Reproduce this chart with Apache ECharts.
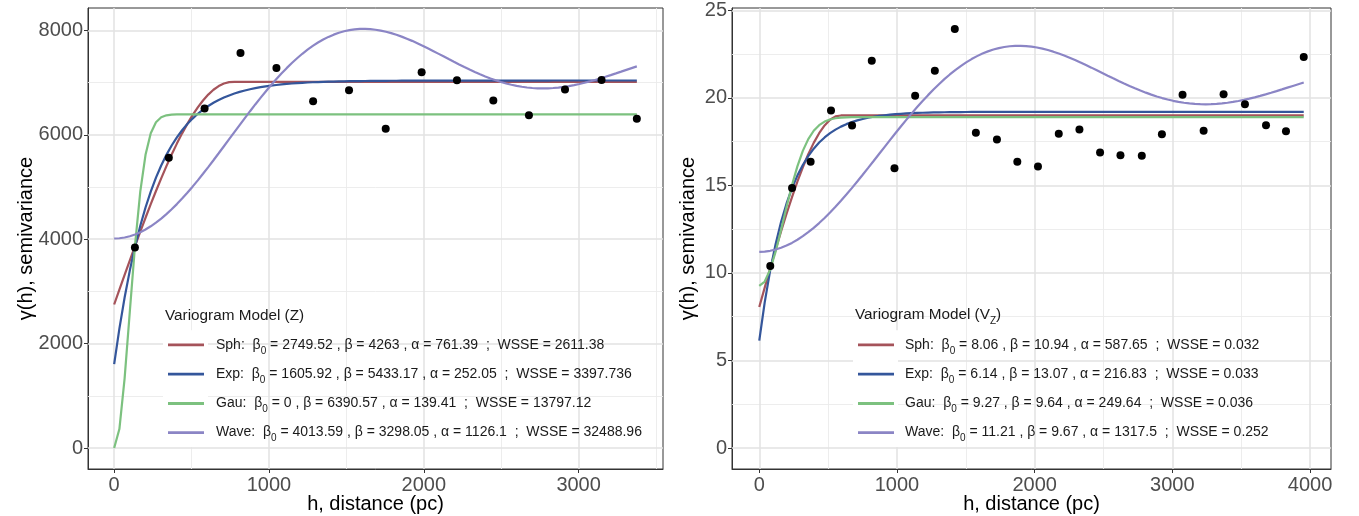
<!DOCTYPE html>
<html>
<head>
<meta charset="utf-8">
<script src="https://cdn.jsdelivr.net/npm/echarts@6/dist/echarts.min.js"></script>
<style>
  html, body { margin: 0; padding: 0; background: #fff; }
  #chart { width: 1359px; height: 516px; }
</style>
</head>
<body>
<div id="chart"></div>
<script>
// Empirical semivariogram of Z (left) and V_Z (right): lag distance (pc) and semivariance
const lagZ   = [134, 353, 584, 816, 1048, 1285, 1517, 1754, 1986, 2214, 2449, 2679, 2912, 3148, 3376];
const gammaZ = [3841, 5561, 6503, 7567, 7281, 6643, 6853, 6115, 7197, 7044, 6656, 6375, 6866, 7051, 6306];

const lagV   = [80, 238, 373, 521, 674, 817, 982, 1132, 1275, 1420, 1573, 1726, 1874, 2024,
                2175, 2325, 2475, 2623, 2778, 2924, 3074, 3227, 3372, 3527, 3680, 3825, 3954];
const gammaV = [10.40, 14.85, 16.35, 19.28, 18.43, 22.13, 15.99, 20.12, 21.56, 23.94, 18.01, 17.63, 16.35, 16.09,
                17.95, 18.20, 16.89, 16.73, 16.70, 17.93, 20.18, 18.12, 20.21, 19.64, 18.44, 18.10, 22.34];

// Fitted variogram models: nugget (beta0), partial sill (beta), range (alpha), WSSE
const modelNames = ['Sph', 'Exp', 'Gau', 'Wave'];
const modelColors = ['#A5535A', '#34569B', '#7CC17F', '#8B85C5'];

const nuggetZ = [2749.52, 1605.92, 0, 4013.59];
const sillZ   = [4263, 5433.17, 6390.57, 3298.05];
const rangeZ  = [761.39, 252.05, 139.41, 1126.1];
const wsseZ   = ['2611.38', '3397.736', '13797.12', '32488.96'];

const nuggetV = [8.06, 6.14, 9.27, 11.21];
const sillV   = [10.94, 13.07, 9.64, 9.67];
const rangeV  = [587.65, 216.83, 249.64, 1317.5];
const wsseV   = ['0.032', '0.033', '0.036', '0.252'];

// Axis ticks and minor grid positions
const xTicksZ = [0, 1000, 2000, 3000];
const xMinorZ = [500, 1500, 2500, 3500];
const yTicksZ = [0, 2000, 4000, 6000, 8000];
const yMinorZ = [1000, 3000, 5000, 7000];

const xTicksV = [0, 1000, 2000, 3000, 4000];
const xMinorV = [500, 1500, 2500, 3500];
const yTicksV = [0, 5, 10, 15, 20, 25];
const yMinorV = [2.5, 7.5, 12.5, 17.5, 22.5];

// Variogram model functions
function modelValue(kind, h, b0, b, a) {
  if (kind === 'Sph') {
    if (h >= a) return b0 + b;
    const r = h / a;
    return b0 + b * (1.5 * r - 0.5 * r * r * r);
  }
  if (kind === 'Exp') return b0 + b * (1 - Math.exp(-h / a));
  if (kind === 'Gau') return b0 + b * (1 - Math.exp(-(h / a) * (h / a)));
  // hole-effect (wave)
  if (h === 0) return b0;
  const t = Math.PI * h / a;
  return b0 + b * (1 - Math.sin(t) / t);
}

function modelCurve(kind, hMax, b0, b, a) {
  const pts = [];
  const n = 100;
  for (let i = 0; i <= n; i++) {
    const h = hMax * i / n;
    pts.push([h, modelValue(kind, h, b0, b, a)]);
  }
  return pts;
}

const FONT = '"Liberation Sans", Arial, Helvetica, sans-serif';

function gridLines(xMajor, xMinor, yMajor, yMinor) {
  const major = { color: '#E2E2E2', width: 1.5, type: 'solid' };
  const minor = { color: '#EBEBEB', width: 0.9, type: 'solid' };
  const d = [];
  xMinor.forEach(v => d.push({ xAxis: v, lineStyle: minor }));
  yMinor.forEach(v => d.push({ yAxis: v, lineStyle: minor }));
  xMajor.forEach(v => d.push({ xAxis: v, lineStyle: major }));
  yMajor.forEach(v => d.push({ yAxis: v, lineStyle: major }));
  return d;
}

const plainNumber = v => String(v);

function xAxisCfg(gridIndex, min, max, ticks) {
  return {
    type: 'value', gridIndex, min, max,
    name: 'h, distance (pc)', nameLocation: 'middle', nameGap: 25, nameMoveOverlap: false,
    nameTextStyle: { fontFamily: FONT, fontSize: 20, color: '#000' },
    axisLine: { show: true, onZero: false, lineStyle: { color: '#333', width: 1 } },
    axisTick: { show: true, length: 4, customValues: ticks, lineStyle: { color: '#333', width: 1 } },
    axisLabel: { customValues: ticks, formatter: plainNumber, fontFamily: FONT, fontSize: 20, color: '#4D4D4D',
                 margin: 6, showMinLabel: true, showMaxLabel: true, hideOverlap: false },
    splitLine: { show: false }, minorSplitLine: { show: false }
  };
}

function yAxisCfg(gridIndex, min, max, ticks, gap) {
  return {
    type: 'value', gridIndex, min, max,
    name: 'γ(h), semivariance', nameLocation: 'middle', nameGap: gap, nameRotate: 90, nameMoveOverlap: false,
    nameTextStyle: { fontFamily: FONT, fontSize: 20, color: '#000' },
    axisLine: { show: true, onZero: false, lineStyle: { color: '#333', width: 1 } },
    axisTick: { show: true, length: 4, customValues: ticks, lineStyle: { color: '#333', width: 1 } },
    axisLabel: { customValues: ticks, formatter: plainNumber, fontFamily: FONT, fontSize: 20, color: '#4D4D4D',
                 margin: 5, showMinLabel: true, showMaxLabel: true, hideOverlap: false },
    splitLine: { show: false }, minorSplitLine: { show: false }
  };
}

const series = [];
// grid lines behind everything
series.push({ type: 'line', xAxisIndex: 0, yAxisIndex: 0, data: [], z: 1, silent: true,
  markLine: { silent: true, symbol: ['none', 'none'], label: { show: false }, animation: false,
              data: gridLines(xTicksZ, xMinorZ, yTicksZ, yMinorZ) } });
series.push({ type: 'line', xAxisIndex: 1, yAxisIndex: 1, data: [], z: 1, silent: true,
  markLine: { silent: true, symbol: ['none', 'none'], label: { show: false }, animation: false,
              data: gridLines(xTicksV, xMinorV, yTicksV, yMinorV) } });

const hMaxZ = lagZ[lagZ.length - 1];
const hMaxV = lagV[lagV.length - 1];

modelNames.forEach((m, i) => {
  series.push({
    name: 'Z ' + m, type: 'line', xAxisIndex: 0, yAxisIndex: 0, z: 10 + i,
    showSymbol: false, symbol: 'none', smooth: false, clip: true,
    lineStyle: { color: modelColors[i], width: 2.2 },
    data: modelCurve(m, hMaxZ, nuggetZ[i], sillZ[i], rangeZ[i])
  });
  series.push({
    name: 'V ' + m, type: 'line', xAxisIndex: 1, yAxisIndex: 1, z: 10 + i,
    showSymbol: false, symbol: 'none', smooth: false, clip: true,
    lineStyle: { color: modelColors[i], width: 2.2 },
    data: modelCurve(m, hMaxV, nuggetV[i], sillV[i], rangeV[i])
  });
});

series.push({ type: 'scatter', xAxisIndex: 0, yAxisIndex: 0, z: 20, symbolSize: 8,
  itemStyle: { color: '#000', opacity: 1 }, data: lagZ.map((h, i) => [h, gammaZ[i]]) });
series.push({ type: 'scatter', xAxisIndex: 1, yAxisIndex: 1, z: 20, symbolSize: 8,
  itemStyle: { color: '#000', opacity: 1 }, data: lagV.map((h, i) => [h, gammaV[i]]) });

// In-panel legend: title, white key boxes, coloured key lines and fit labels
const richText = {
  s: { fontFamily: FONT, fontSize: 10, verticalAlign: 'bottom', lineHeight: 10, fill: '#1a1a1a' },
  t: { fontFamily: FONT, fontSize: 14, lineHeight: 22, fill: '#1a1a1a' },
  T: { fontFamily: FONT, fontSize: 15.3, lineHeight: 22, fill: '#1a1a1a' }
};

function legendGraphics(x0, yTitle, keyYs, textX, titleTokens, nug, sill, rng, wsse) {
  const els = [];
  els.push({ type: 'rect', shape: { x: x0, y: keyYs[0] - 14.5, width: 45, height: keyYs[3] - keyYs[0] + 29 },
             style: { fill: '#fff' }, z: 30, silent: true });
  els.push({ type: 'text', x: x0 + 2, y: yTitle, z: 31, silent: true,
             style: { text: titleTokens, rich: richText, verticalAlign: 'middle', align: 'left' } });
  modelNames.forEach((m, i) => {
    els.push({ type: 'line', z: 31, silent: true,
               shape: { x1: x0 + 5, y1: keyYs[i], x2: x0 + 41, y2: keyYs[i] },
               style: { stroke: modelColors[i], lineWidth: 2.8 } });
    const label = '{t|' + m + ':  β}{s|0}{t| = ' + nug[i] + ' , β = ' + sill[i] + ' , α = ' + rng[i] +
                  '  ;  WSSE = ' + wsse[i] + '}';
    els.push({ type: 'text', x: textX, y: keyYs[i], z: 31, silent: true,
               style: { text: label, rich: richText, verticalAlign: 'middle', align: 'left' } });
  });
  return els;
}

const keyYs = [344.8, 374.2, 403.5, 432.6];
const graphics = []
  .concat(legendGraphics(163, 316, keyYs, 216, '{T|Variogram Model (Z)}', nuggetZ, sillZ, rangeZ, wsseZ))
  .concat(legendGraphics(853, 315, keyYs, 905, '{T|Variogram Model (V}{s|Z}{T|)}', nuggetV, sillV, rangeV, wsseV));

const option = {
  animation: false,
  backgroundColor: '#fff',
  grid: [
    { left: 88, top: 8, width: 575, height: 461, show: true, backgroundColor: '#fff',
      borderColor: '#333', borderWidth: 1, containLabel: false, outerBoundsMode: 'none' },
    { left: 732, top: 8, width: 599, height: 461, show: true, backgroundColor: '#fff',
      borderColor: '#333', borderWidth: 1, containLabel: false, outerBoundsMode: 'none' }
  ],
  xAxis: [ xAxisCfg(0, -169, 3545, xTicksZ), xAxisCfg(1, -198, 4152, xTicksV) ],
  yAxis: [ yAxisCfg(0, -401, 8428, yTicksZ, 52), yAxisCfg(1, -1.2, 25.14, yTicksV, 34) ],
  series,
  graphic: graphics
};

const chart = echarts.init(document.getElementById('chart'), null, { renderer: 'canvas', width: 1359, height: 516 });
chart.setOption(option);
</script>
</body>
</html>
